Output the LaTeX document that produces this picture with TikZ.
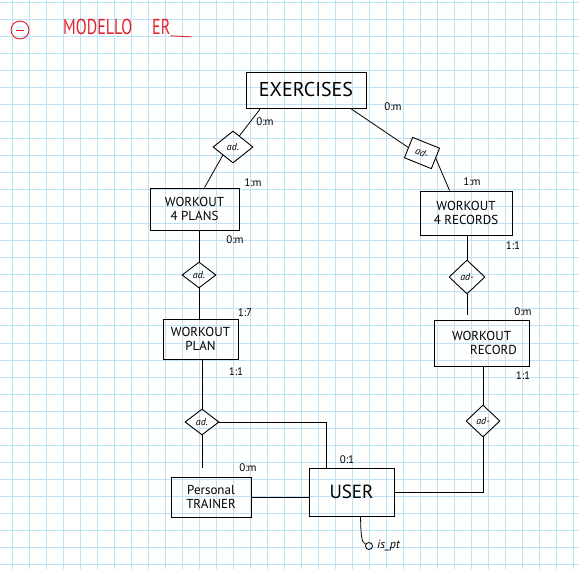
\documentclass[tikz,border=0pt]{standalone}
\usepackage{fontspec}
\setmainfont{PT Sans}
\usetikzlibrary{shapes.geometric}
\definecolor{gridblue}{HTML}{BDE2F7}
\definecolor{penred}{HTML}{E3202A}

\begin{document}
\begin{tikzpicture}[x=1pt,y=-1pt,
 every node/.style={align=center,inner sep=0pt,font=\fontsize{13}{14}\selectfont},
 entity/.style={draw,line width=0.9pt,rectangle},
 relation/.style={draw,line width=0.9pt,diamond,minimum width=34pt,minimum height=26pt,font=\fontsize{10}{10}\selectfont\itshape},
 card/.style={font=\fontsize{11}{11}\selectfont},
 link/.style={line width=0.8pt}]
\useasboundingbox (0,0) rectangle (579,569);
\fill[white] (0,0) rectangle (579,569);
% squared paper
\foreach \gx in {0,...,33} \draw[gridblue,line width=0.9pt] (12.5+17*\gx,0) -- ++(0,569);
\foreach \gy in {0,...,33} \draw[gridblue,line width=0.9pt] (0,2+17.05*\gy) -- ++(579,0);

% title
\node[draw=penred,circle,line width=0.9pt,minimum size=18pt] (bullet) at (20,30) {};
\draw[penred,line width=0.9pt] ([xshift=-4pt]bullet.center) -- ([xshift=4pt]bullet.center);
\node[text=penred,font=\fontsize{16}{16}\selectfont,anchor=west] (title) at (63,27) {\scalebox{1}[1.35]{MODELLO}};
\node[text=penred,font=\fontsize{16}{16}\selectfont,anchor=west] (er) at (152,27) {\scalebox{1}[1.35]{ER}};
\draw[penred,line width=0.9pt] ([yshift=-1pt]er.south east) -- ++(21,1);

% entities
\node[entity,minimum width=120pt,minimum height=36pt,font=\fontsize{20}{20}\selectfont] (ex) at (306,90) {EXERCISES};
\node[entity,minimum width=89pt,minimum height=42pt] (wplans) at (194.5,209) {WORKOUT\\4 PLANS};
\node[entity,minimum width=92pt,minimum height=44pt] (wrecords) at (466,213) {WORKOUT\\4 RECORDS};
\node[entity,minimum width=75pt,minimum height=40pt] (wplan) at (200.5,339) {WORKOUT\\PLAN};
\node[entity,minimum width=95pt,minimum height=46pt] (wrecord) at (481.5,343) {WORKOUT\\\hspace*{24pt}RECORD};
\node[entity,minimum width=80pt,minimum height=40pt] (trainer) at (211,497) {Personal\\TRAINER};
\node[entity,minimum width=85pt,minimum height=48pt,font=\fontsize{19}{19}\selectfont] (user) at (351.5,492) {USER};

% relations
\node[relation,minimum width=40pt,minimum height=32pt] (rex1) at (233,147) {ad.};
\node[draw,line width=0.9pt,rectangle,minimum width=29pt,minimum height=22pt,rotate=-22,font=\fontsize{10}{10}\selectfont\itshape] (rex2) at (422,153) {ad-};
\node[relation] (rwp) at (199,275) {ad.};
\node[relation,minimum width=36pt,minimum height=34pt] (rwr) at (467,277) {ad-};
\node[relation] (rpl) at (202,422) {ad.};
\node[relation,minimum height=32pt] (rrec) at (483,421) {ad-};

% attribute
\node[draw,circle,line width=0.8pt,minimum size=7pt] (ispt) at (369,546) {};
\node[font=\fontsize{12}{12}\selectfont\itshape,anchor=west] (isptlabel) at (377,545) {is\_pt};

% connectors
\draw[link] ([xshift=15pt]ex.south west) -- (rex1.60);
\draw[link] (rex1.south west) -- ([xshift=55pt]wplans.north west);
\draw[link] ([xshift=105pt]ex.south west) -- (rex2.west);
\draw[link] (rex2.east) -- ([xshift=30pt]wrecords.north west);
\draw[link] (rwr.north |- wrecords.south) -- (rwr.north);
\draw[link,shorten >=5pt] (rwr.south) -- (rwr.south |- wrecord.north);
\draw[link] (rrec.north |- wrecord.south) -- (rrec.north);
\draw[link] (rrec.south) |- (user.east);
\draw[link] (rwp.north |- wplans.south) -- (rwp.north);
\draw[link] (rwp.south) -- (rwp.south |- wplan.north);
\draw[link] (rpl.north |- wplan.south) -- (rpl.north);
\draw[link] (rpl.east) -| ([xshift=18pt]user.north west);
\draw[link,shorten >=9pt] (rpl.south) -- (rpl.south |- trainer.north);
\draw[link] (trainer.east) -- (trainer.east -| user.west);
\draw[link] ([xshift=9pt]user.south) .. controls (361,534) and (361,542) .. (ispt);

% cardinalities
\node[card] (c1) at (265,122) {0:m};
\node[card] (c2) at (393,107) {0:m};
\node[card] (c3) at (253,183) {1:m};
\node[card] (c4) at (472,182) {1:m};
\node[card] (c5) at (235,240) {0:m};
\node[card] (c6) at (513,246) {1:1};
\node[card] (c7) at (245,313) {1:7};
\node[card] (c8) at (523,312) {0:m};
\node[card] (c9) at (236,372) {1:1};
\node[card] (c10) at (523,376) {1:1};
\node[card] (c11) at (248,468) {0:m};
\node[card] (c12) at (347,460) {0:1};
\end{tikzpicture}
\end{document}
